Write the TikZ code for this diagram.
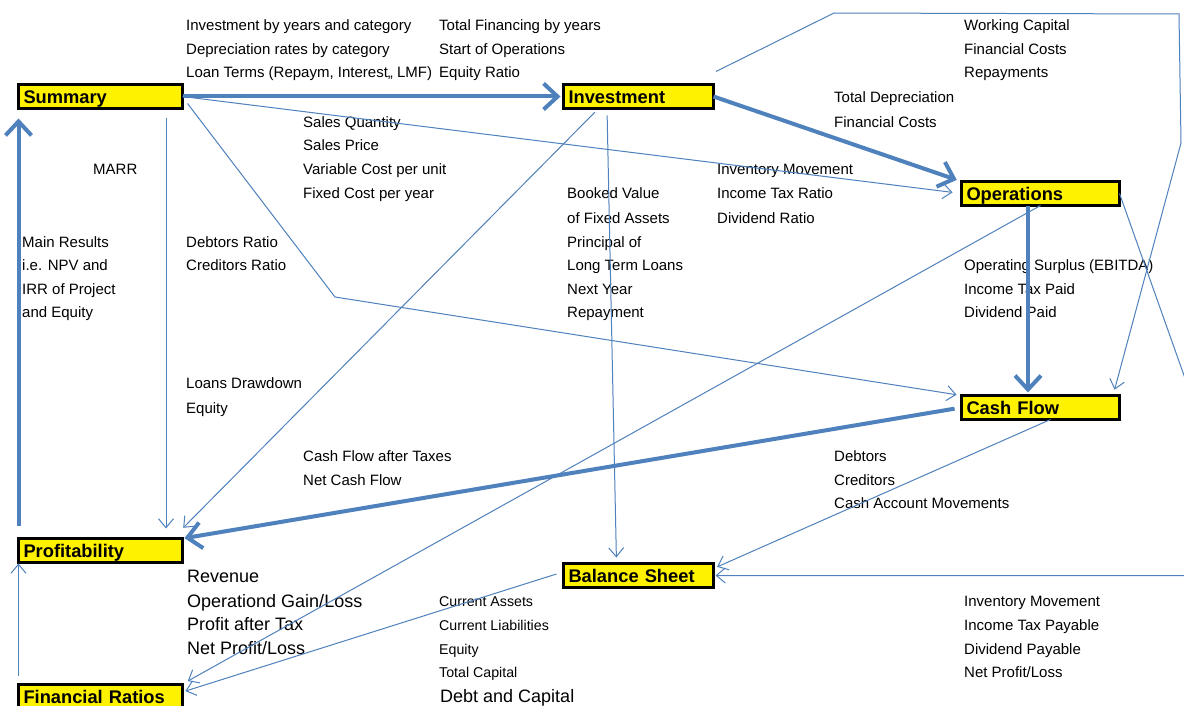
\documentclass[tikz,border=0pt]{standalone}
\usepackage{fontspec}
\setmainfont{Liberation Sans}
\usetikzlibrary{arrows.meta,calc}
\definecolor{lnblue}{RGB}{79,129,189}
\begin{document}
\begin{tikzpicture}[x=1pt,y=-1pt,
 box/.style={draw=black, line width=3pt, fill=yellow, font=\bfseries\fontsize{18.3}{20}\selectfont,
   text height=15.5pt, text depth=1.5pt, inner xsep=5pt, inner ysep=3.5pt, align=left, outer sep=0pt},
 lbl/.style={anchor=base west, inner sep=0pt, yshift=-1.5pt, font=\fontsize{15}{18}\selectfont},
 sml/.style={anchor=base west, inner sep=0pt, yshift=-1pt, font=\fontsize{14.2}{18}\selectfont},
 big/.style={anchor=base west, inner sep=0pt, yshift=-0.5pt, font=\fontsize{18}{20}\selectfont},
 thickarrow/.style={draw=lnblue, line width=4pt, -{Straight Barb[length=14pt,width=26pt]}},
 thinarrow/.style={draw=lnblue, line width=1pt, -{Straight Barb[length=9pt,width=15pt]}},
]
\useasboundingbox (0,0) rectangle (1184,706);
\fill[white] (0,0) rectangle (1184,706);
\clip (0,0) rectangle (1184,706);

% boxes
\node[box, text width=154pt] (sum)  at (100.5,96.5)  {Summary};
\node[box, text width=140pt] (inv)  at (638.5,96.5)  {Investment};
\node[box, text width=148pt] (ops)  at (1040.5,193.5) {Operations};
\node[box, text width=148pt] (cf)   at (1040.5,407.5) {Cash Flow};
\node[box, text width=154pt] (prof) at (100.5,550.5) {Profitability};
\node[box, text width=140pt] (bs)   at (638.5,575.5) {Balance Sheet};
\node[box, text width=154pt] (fr)   at (100.5,696)   {Financial Ratios};

% labels
\node[lbl] (a1) at (186,29) {Investment by years and category};
\node[lbl] (a2) at (186,53) {Depreciation rates by category};
\node[lbl] (a3) at (186,76) {Loan Terms (Repaym, Interest,, LMF)};
\node[lbl] (b1) at (439,29) {Total Financing by years};
\node[lbl] (b2) at (439,53) {Start of Operations};
\node[lbl] (b3) at (439,76) {Equity Ratio};
\node[lbl] (c1) at (964,29) {Working Capital};
\node[lbl] (c2) at (964,53) {Financial Costs};
\node[lbl] (c3) at (964,76) {Repayments};
\node[lbl] (d1) at (834,101) {Total Depreciation};
\node[lbl] (d2) at (834,126) {Financial Costs};
\node[lbl] (e1) at (303,126) {Sales Quantity};
\node[lbl] (e2) at (303,149) {Sales Price};
\node[lbl] (e3) at (303,173) {Variable Cost per unit};
\node[lbl] (e4) at (303,197) {Fixed Cost per year};
\node[lbl] (marr) at (93,173) {MARR};
\node[lbl] (f1) at (717,173) {Inventory Movement};
\node[lbl] (f2) at (717,197) {Income Tax Ratio};
\node[lbl] (f3) at (717,222) {Dividend Ratio};
\node[lbl] (g1) at (567,197) {Booked Value};
\node[lbl] (g2) at (567,222) {of Fixed Assets};
\node[lbl] (g3) at (567,246) {Principal of};
\node[lbl] (g4) at (567,269) {Long Term Loans};
\node[lbl] (g5) at (567,293) {Next Year};
\node[lbl] (g6) at (567,316) {Repayment};
\node[lbl] (h1) at (22,246) {Main Results};
\node[lbl] (h2) at (22,269) {i.e. NPV and};
\node[lbl] (h3) at (22,293) {IRR of Project};
\node[lbl] (h4) at (22,316) {and Equity};
\node[lbl] (i1) at (186,246) {Debtors Ratio};
\node[lbl] (i2) at (186,269) {Creditors Ratio};
\node[lbl] (j1) at (964,269) {Operating Surplus (EBITDA)};
\node[lbl] (j2) at (964,293) {Income Tax Paid};
\node[lbl] (j3) at (964,316) {Dividend Paid};
\node[lbl] (k1) at (186,387) {Loans Drawdown};
\node[lbl] (k2) at (186,412) {Equity};
\node[lbl] (l1) at (303,460) {Cash Flow after Taxes};
\node[lbl] (l2) at (303,484) {Net Cash Flow};
\node[lbl] (m1) at (834,460) {Debtors};
\node[lbl] (m2) at (834,484) {Creditors};
\node[lbl] (m3) at (834,507) {Cash Account Movements};
\node[big] (n1) at (187,581.5) {Revenue};
\node[big] (n2) at (187,606.5) {Operationd Gain/Loss};
\node[big] (n3) at (187,629.5) {Profit after Tax};
\node[big] (n4) at (187,653.5) {Net Profit/Loss};
\node[sml] (o1) at (439,605) {Current Assets};
\node[sml] (o2) at (439,629) {Current Liabilities};
\node[sml] (o3) at (439,653) {Equity};
\node[sml] (o4) at (439,676) {Total Capital};
\node[big] (o5) at (440,701.5) {Debt and Capital};
\node[lbl] (p1) at (964,605) {Inventory Movement};
\node[lbl] (p2) at (964,629) {Income Tax Payable};
\node[lbl] (p3) at (964,653) {Dividend Payable};
\node[lbl] (p4) at (964,676) {Net Profit/Loss};

% helper coordinates
\coordinate (bend1) at (335,297);
\coordinate (top1) at (834,13);
\coordinate (top2) at (1179,14);
\coordinate (top3) at (1181,143);
\coordinate (rgt1) at (1192,398);
\coordinate (rgt2) at (1192,575.5);

% thick connectors
\draw[thickarrow, shorten >=3pt] (sum.east) -- (inv.west);
\draw[thickarrow, shorten >=5pt] (inv.east) -- (ops.north west);
\draw[thickarrow, shorten >=3pt] ([xshift=-12.5pt]ops.south) -- ([xshift=-12.5pt]cf.north);
\draw[thickarrow, shorten <=7pt, shorten >=2pt] (cf.west) -- (prof.north east);
\draw[thickarrow, shorten <=13pt, shorten >=10pt] (prof.north west) -- (sum.south west);

% thin connectors
\draw[thinarrow, shorten >=9pt] (sum.east) -- (ops.west);
\draw[thinarrow, shorten >=5pt] ([xshift=5pt,yshift=-7pt]sum.east) -- (bend1) -- (cf.north west);
\draw[thinarrow, shorten <=10pt, shorten >=10pt] ([xshift=-16.5pt]sum.south east) -- ([xshift=-16.5pt]prof.north east);
\draw[thinarrow, shorten <=5pt, shorten >=1pt] ([xshift=-40pt]inv.south) -- ([yshift=10pt]prof.north east);
\draw[thinarrow, shorten <=7pt, shorten >=6pt] ([xshift=-31.5pt]inv.south) -- ([xshift=-22pt]bs.north);
\draw[thinarrow, shorten >=6pt] ([xshift=2.5pt,yshift=13pt]inv.north east) -- (top1) -- (top2) -- (top3) -- ([xshift=-6.5pt]cf.north east);
\draw[thinarrow, shorten >=2pt] (ops.east) -- (rgt1) -- (rgt2) -- (bs.east);
\draw[thinarrow, shorten >=6pt] (ops.south) -- (fr.north east);
\draw[thinarrow, shorten >=4pt] ([xshift=10pt]cf.south) -- ([yshift=-5pt]bs.north east);
\draw[thinarrow, shorten >=3pt] ([xshift=-7pt,yshift=1.5pt]bs.west) -- ([yshift=4pt]fr.east);
\draw[thinarrow, shorten >=1pt] ([yshift=8pt]fr.north west) -- (prof.south west);
\end{tikzpicture}
\end{document}
